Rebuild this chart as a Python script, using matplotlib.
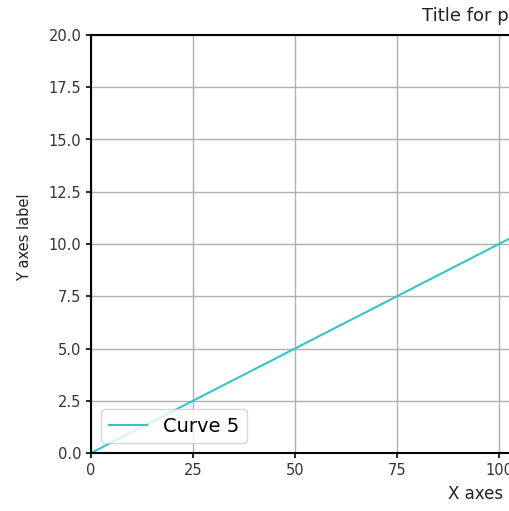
import numpy as np
import matplotlib.pyplot as plt

# data for the curve
x = [0, 50, 100, 150, 200]
y = [0.0, 5.0, 10.0, 15.0, 20.0]
xticks = [0, 25, 50, 75, 100, 125, 150, 175, 200]
yticks = [0.0, 2.5, 5.0, 7.5, 10.0, 12.5, 15.0, 17.5, 20.0]

fig = plt.figure(figsize=(5.09, 5.11), dpi=100)
# axes wider than the figure, so the right part is cut off like the reference
ax = fig.add_axes([91 / 509, 58 / 511, 816 / 509, 418 / 511])

ax.plot(x, y, color='#34c6c6', lw=1.5, label='Curve 5')
ax.set_xlim(0, 200)
ax.set_ylim(0, 20)
ax.set_xticks(xticks)
ax.set_yticks(yticks)
ax.tick_params(labelsize=10.5, width=1.2, labelcolor='#333333')
ax.grid(True, color='#b0b0b0', lw=1)
for s in ax.spines.values():
    s.set_linewidth(1.5)

ax.set_title('Title for plot', fontsize=13, x=(422 - 91) / 816, ha='left', pad=10,
             color='#222222')
ax.set_xlabel('X axes label', fontsize=12, ha='left', color='#222222')
ax.xaxis.set_label_coords((448 - 91) / 816, (453 - 485) / 418)
ax.set_ylabel('Y axes label', fontsize=10.5, color='#222222')
ax.yaxis.set_label_coords((32 - 91) / 816, (453 - 237) / 418)
ax.legend(loc='lower left', fontsize=14)

fig.savefig('out.png', dpi=100)
